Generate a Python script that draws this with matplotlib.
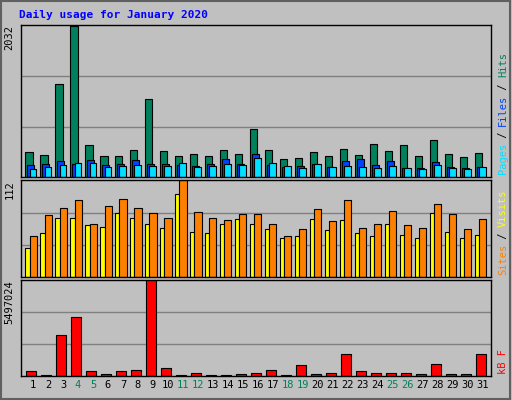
import matplotlib
matplotlib.use("Agg")
import matplotlib.pyplot as plt
import numpy as np

days = np.arange(1, 32)
hits = [336, 294, 1246, 2032, 432, 280, 280, 363, 1053, 350, 280, 308, 280, 363, 308, 639,
        363, 239, 253, 336, 280, 377, 294, 446, 350, 432, 280, 501, 308, 267, 322]
files = [156, 170, 211, 170, 225, 156, 170, 225, 170, 170, 156, 143, 170, 239, 170, 308,
         156, 129, 143, 170, 129, 211, 239, 156, 211, 115, 115, 198, 129, 115, 129]
pages = [101, 129, 156, 184, 184, 129, 143, 156, 143, 143, 184, 129, 143, 170, 156, 253,
         184, 143, 115, 170, 129, 143, 129, 115, 143, 115, 101, 156, 115, 101, 129]
visits = [34, 51, 68, 68, 60, 58, 74, 69, 61, 57, 96, 52, 51, 61, 67, 62,
          56, 45, 47, 67, 54, 66, 51, 47, 62, 49, 45, 74, 52, 45, 49]
sites = [47, 72, 80, 89, 62, 82, 91, 80, 74, 69, 112, 76, 68, 66, 73, 73,
         62, 47, 56, 79, 65, 89, 57, 62, 77, 60, 57, 85, 73, 56, 67]
kbytes = [260000, 80000, 2370000, 3390000, 260000, 140000, 260000, 320000, 5497024, 440000,
          80000, 200000, 80000, 80000, 140000, 200000, 320000, 80000, 620000, 140000,
          200000, 1280000, 260000, 200000, 200000, 200000, 140000, 680000, 140000, 140000, 1280000]
weekends = [4, 5, 11, 12, 18, 19, 25, 26]

BG = "#c0c0c0"
mono = "DejaVu Sans Mono"

fig = plt.figure(figsize=(5.12, 4.0), dpi=100, facecolor=BG)
fig.patches.append(plt.Rectangle((0.002, 0.003), 0.994, 0.994, transform=fig.transFigure,
                                 fill=False, edgecolor="#606060", lw=1.5))
fig.text(19 / 512, 1 - 15 / 400, "Daily usage for January 2020", color="#0000ff",
         family=mono, weight="bold", fontsize=8, va="center")

W = 512.0
H = 400.0
def mk(top, bottom):
    return fig.add_axes([21 / W, 1 - bottom / H, 470 / W, (bottom - top) / H], facecolor=BG)

ax1 = mk(25, 177)
ax2 = mk(180, 277)
ax3 = mk(280, 376)

ek = dict(edgecolor="black", linewidth=0.8, align="edge")
ax1.bar(days - 0.5, hits, 0.47, color="#00805c", **ek)
ax1.bar(days - 0.37, files, 0.47, color="#0040ff", **ek)
ax1.bar(days - 0.23, pages, 0.46, color="#00e0ff", **ek)
ax2.bar(days - 0.5, visits, 0.27, color="#ffff00", **ek)
ax2.bar(days - 0.23, sites, 0.47, color="#ff8000", **ek)
ax3.bar(days - 0.44, kbytes, 0.66, color="#ff0000", **ek)

for ax, mx, lab in [(ax1, max(hits), "2032"), (ax2, max(sites), "112"),
                    (ax3, max(kbytes), "5497024")]:
    ax.set_xlim(0.2, 31.55)
    ax.set_ylim(0, mx * 1.005)
    for f in (1 / 3, 2 / 3):
        ax.axhline(mx * f, color="#808080", lw=1, zorder=0)
    ax.set_yticks([])
    ax.set_xticks([])
    for s in ax.spines.values():
        s.set_color("black")
        s.set_linewidth(1)
    ax.text(-0.025, 1.0, lab, transform=ax.transAxes, rotation=90, ha="center", va="top",
            family=mono, fontsize=7.5, color="black")

for d in days:
    ax3.text(d, -0.04, str(d), transform=ax3.get_xaxis_transform(), ha="center", va="top",
             family=mono, fontsize=7.5, color="#00805c" if d in weekends else "black")

def side(ax, parts):
    y = 0.0 if ax is not ax3 else 0.0
    pos = 0.02
    for txt, col in parts:
        ax.text(1.015, pos, txt, transform=ax.transAxes, rotation=90, ha="left", va="bottom",
                family=mono, fontsize=7.5, color=col)
        pos += len(txt) * 0.0405 * (152 / ((ax.get_position().height) * H)) * 0.98

side(ax1, [("Pages", "#00e0ff"), (" / ", "black"), ("Files", "#0040ff"),
           (" / ", "black"), ("Hits", "#00805c")])
side(ax2, [("Sites", "#ff8000"), (" / ", "black"), ("Visits", "#ffff00")])
side(ax3, [("kB F", "#ff0000")])

fig.savefig("out.png", dpi=100, facecolor=BG)
